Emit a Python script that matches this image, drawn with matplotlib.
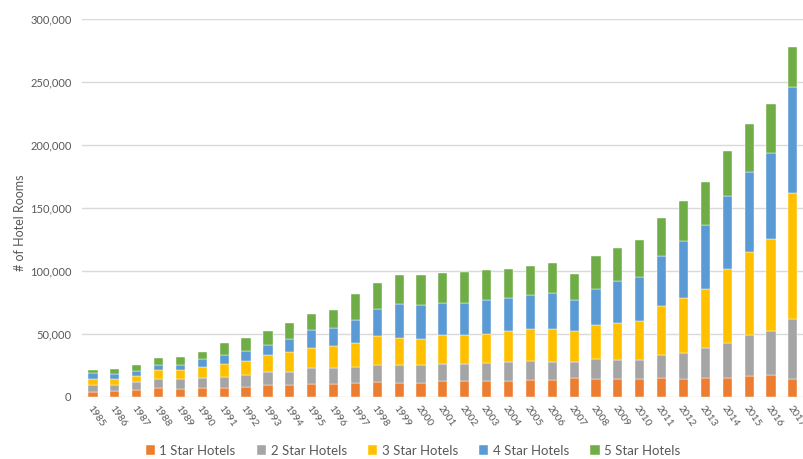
import matplotlib
matplotlib.use("Agg")
import matplotlib.pyplot as plt
import numpy as np
from matplotlib.ticker import FuncFormatter

# Hotel rooms by star rating, 1985-2017
years = list(range(1985, 2018))

one_star = [4000, 4500, 5300, 7200, 6400, 7200, 7200, 8000, 9300, 9300,
            10100, 10100, 10600, 11700, 10600, 10600, 12500, 12500, 12500, 12500,
            13000, 13000, 15100, 13800, 13800, 13800, 15100, 14300, 15100, 15100,
            16700, 17200, 13800]
two_star = [5300, 4800, 6400, 7100, 7900, 7900, 8700, 9500, 10300, 10300,
            12400, 12400, 13250, 13700, 14300, 14300, 13700, 13700, 14300, 15100,
            15350, 14600, 12500, 16150, 15350, 15350, 17800, 20150, 23850, 27800,
            32100, 34700, 48200]
three_star = [5000, 5000, 4800, 6600, 6600, 8200, 10100, 10900, 13300, 15900,
              16500, 17800, 18550, 22800, 22000, 21200, 22600, 22600, 23300, 24300,
              25150, 25900, 24300, 26750, 29450, 30750, 39400, 43750, 46650, 58900,
              66200, 73200, 99900]
four_star = [4200, 4000, 4000, 4300, 4300, 6400, 6900, 7900, 7900, 10300,
             13700, 14000, 18300, 21200, 26500, 26500, 25700, 25700, 27000, 26300,
             27050, 28650, 24700, 28600, 33400, 35000, 39800, 45550, 50600, 58000,
             63900, 68350, 84300]
five_star = [2700, 4000, 5000, 5300, 6100, 6100, 10000, 10100, 11700, 12500,
             13000, 14900, 20700, 21200, 23300, 23900, 24100, 24300, 23900, 23300,
             23350, 23850, 21200, 26500, 26500, 29650, 29900, 31550, 34500, 35800,
             38100, 38950, 31500]

series_names = ["1 Star Hotels", "2 Star Hotels", "3 Star Hotels",
                "4 Star Hotels", "5 Star Hotels"]
colors = ["#ED7D31", "#A5A5A5", "#FFC000", "#5B9BD5", "#70AD47"]

plt.rcParams["font.family"] = ["Lato", "DejaVu Sans"]
text_color = "#595959"

fig = plt.figure(figsize=(8.04, 4.59), dpi=100)
ax = fig.add_axes([82 / 804, 1 - 396.7 / 459, 722 / 804, (396.7 - 19.3) / 459])

x = np.arange(len(years))
bottom = np.zeros(len(years))
for name, vals, col in zip(series_names,
                           [one_star, two_star, three_star, four_star, five_star],
                           colors):
    ax.bar(x, vals, width=0.42, bottom=bottom, color=col, label=name,
           edgecolor="white", linewidth=0.3, zorder=3)
    bottom += np.array(vals)

ax.set_xlim(-0.5, len(years) - 0.49)
ax.set_ylim(0, 300000)
ax.set_yticks(np.arange(0, 300001, 50000))
ax.yaxis.set_major_formatter(FuncFormatter(lambda v, p: f"{int(v):,}"))
ax.grid(axis="y", color="#D9D9D9", linewidth=1.0, zorder=0)
for s in ax.spines.values():
    s.set_visible(False)
ax.tick_params(axis="both", length=0, colors=text_color, labelsize=8)
ax.tick_params(axis="y", pad=7.5)

# year labels run steeply down to the right; the last one is clipped by the edge
ax.set_xticks(x)
ax.set_xticklabels([str(y) for y in years], rotation=-55, ha="left", va="top",
                   rotation_mode="anchor", fontsize=7.3, color=text_color)
ax.tick_params(axis="x", pad=5)

ax.set_ylabel("# of Hotel Rooms", fontsize=9, color=text_color)
ax.yaxis.set_label_coords(-0.078, 0.46)

fig.legend(loc="center", bbox_to_anchor=(413 / 804, 1 - 450.7 / 459), ncol=5,
           frameon=False, fontsize=9.5, handlelength=0.7, handleheight=0.7,
           handletextpad=0.35, columnspacing=1.6, labelcolor=text_color)

fig.savefig("out.png", dpi=100)
